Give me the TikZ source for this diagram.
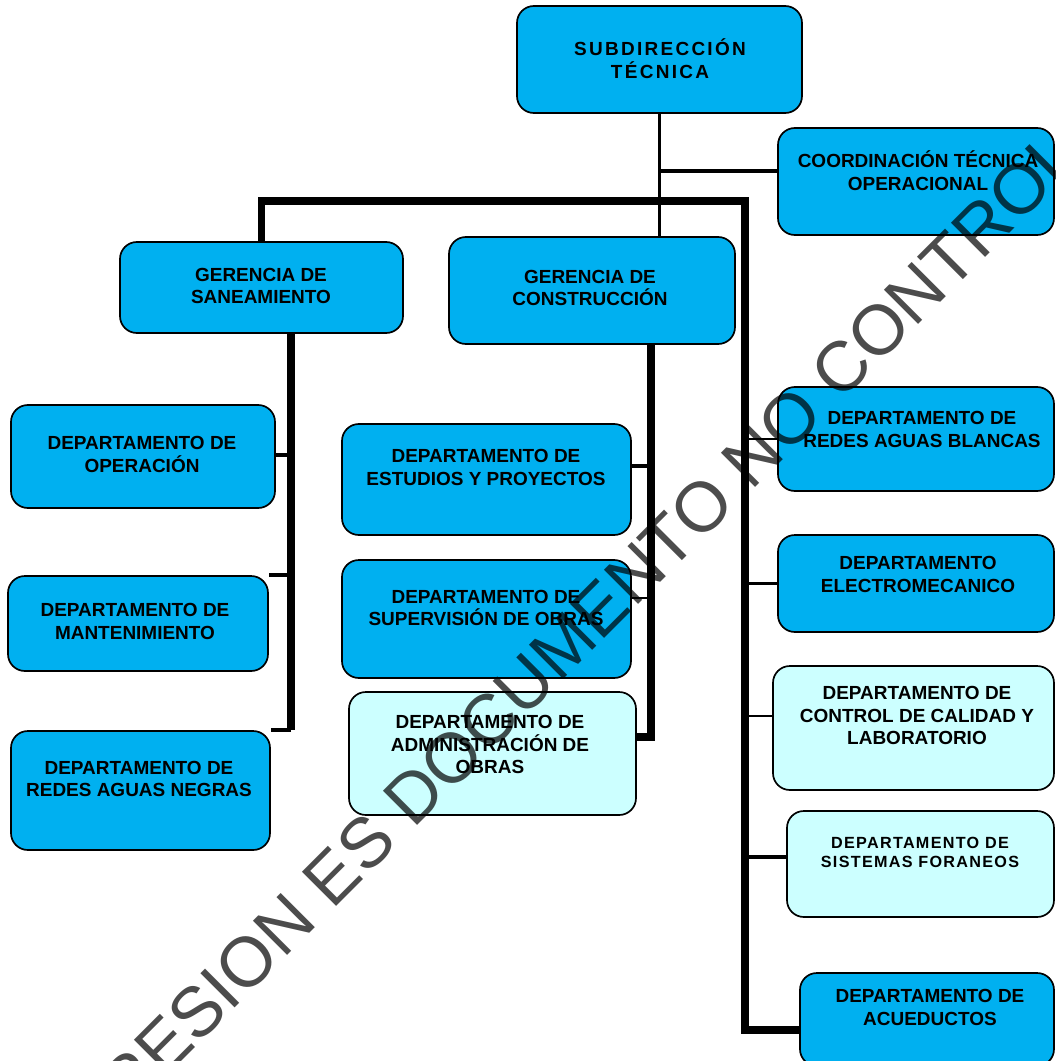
\documentclass[tikz,border=0pt]{standalone}
\usepackage{fontspec}
\setmainfont{Liberation Sans}
\usetikzlibrary{fit}
\definecolor{cajaazul}{HTML}{00B0F0}
\definecolor{cajaclara}{HTML}{CCFFFF}
\begin{document}
\begin{tikzpicture}[x=0.025cm, y=-0.025cm,
  caja/.style = {draw, line width=1.2pt, rounded corners=12pt, inner sep=0pt, fill=cajaazul},
  clara/.style = {caja, fill=cajaclara},
  texto/.style = {align=center, inner sep=0pt, font=\bfseries\fontsize{13.5}{16}\selectfont},
  titulo/.style = {texto, font=\bfseries\fontsize{13.5}{16}\selectfont\addfontfeatures{LetterSpace=12}},
  chico/.style = {texto, font=\bfseries\fontsize{11.5}{13.5}\selectfont\addfontfeatures{LetterSpace=8}},
  linea/.style = {line width=1.6pt},
  media/.style = {line width=2.8pt},
  gruesa/.style = {line width=5pt},
  marca/.style = {black, opacity=0.7, text opacity=0.7, inner sep=0pt, font=\fontsize{50}{60}\selectfont}]
\useasboundingbox (0,0) rectangle (1055,1061);
\clip (0,0) rectangle (1055,1061);

\node[caja, fit={(517,6) (802,113)}] (sub) {};
\node[titulo] (sub-t) at (660,58.5) {SUBDIRECCIÓN\\TÉCNICA};
\node[caja, fit={(778,128) (1054,235)}] (coord) {};
\node[texto] (coord-t) at (918,170.5) {COORDINACIÓN TÉCNICA\\OPERACIONAL};

\node[caja, fit={(120,242) (403,333)}] (gsan) {};
\node[texto] (gsan-t) at (261,286) {GERENCIA DE\\SANEAMIENTO};
\node[caja, fit={(449,237) (735,344)}] (gcon) {};
\node[texto] (gcon-t) at (590,288) {GERENCIA DE\\CONSTRUCCIÓN};

\node[caja, fit={(11,405) (275,508)}] (dop) {};
\node[texto] (dop-t) at (142,454.5) {DEPARTAMENTO DE\\OPERACIÓN};
\node[caja, fit={(8,576) (268,671)}] (dman) {};
\node[texto] (dman-t) at (135,621.5) {DEPARTAMENTO DE\\MANTENIMIENTO};
\node[caja, fit={(11,731) (270,850)}] (drn) {};
\node[texto] (drn-t) at (139,779) {DEPARTAMENTO DE\\REDES AGUAS NEGRAS};

\node[caja, fit={(342,424) (631,535)}] (dest) {};
\node[texto] (dest-t) at (486,467.5) {DEPARTAMENTO DE\\ESTUDIOS Y PROYECTOS};
\node[caja, fit={(342,560) (631,678)}] (dsup) {};
\node[texto] (dsup-t) at (486,608) {DEPARTAMENTO DE\\SUPERVISIÓN  DE OBRAS};
\node[clara, fit={(349,692) (636,815)}] (dadm) {};
\node[texto] (dadm-t) at (490,744.5) {DEPARTAMENTO DE\\ADMINISTRACIÓN DE\\OBRAS};

\node[caja, fit={(778,387) (1054,491)}] (drb) {};
\node[texto] (drb-t) at (922,429.5) {DEPARTAMENTO DE\\REDES AGUAS BLANCAS};
\node[caja, fit={(778,535) (1054,632)}] (delm) {};
\node[texto] (delm-t) at (918,574.5) {DEPARTAMENTO\\ELECTROMECANICO};
\node[clara, fit={(773,666) (1054,790)}] (dcal) {};
\node[texto] (dcal-t) at (917,715.5) {DEPARTAMENTO DE\\CONTROL DE CALIDAD Y\\LABORATORIO};
\node[clara, fit={(787,811) (1054,917)}] (dsis) {};
\node[chico] (dsis-t) at (920,852.5) {DEPARTAMENTO DE\\SISTEMAS FORANEOS};
\node[caja, fit={(800,973) (1054,1066)}] (dacu) {};
\node[texto] (dacu-t) at (930,1007.5) {DEPARTAMENTO DE\\ACUEDUCTOS};

\coordinate (barR) at (745,201);
\coordinate (san) at (291,333);
\coordinate (con) at (651,344);

\draw[media] (sub.south) -- (sub.south |- gcon.north);
\draw[media] (sub.south |- 0,171) -- (coord.west |- 0,171);
\draw[gruesa] (gsan.north) |- (barR) -- (barR |- 0,1030) -- (dacu.west |- 0,1030);

\draw[gruesa] (san) -- (san |- drn.north);
\draw[media] (san |- 0,455) -- (dop.east |- 0,455);
\draw[media] (san |- dman.north) -- (dman.north east);
\draw[media] (san |- drn.north) -- (drn.north east);

\draw[gruesa] (con) |- (dadm.east |- 0,737);
\draw[media] (con |- 0,466) -- (dest.east |- 0,466);
\draw[linea] (con |- 0,598) -- (dsup.east |- 0,598);

\draw[linea] (barR |- drb.west) -- (drb.west);
\draw[linea] (barR |- delm.west) -- (delm.west);
\draw[linea] (barR |- 0,716) -- (dcal.west |- 0,716);
\draw[media] (barR |- 0,857) -- (dsis.west |- 0,857);

\node[marca, rotate=45, anchor=base west] (aviso) at (40,1203) {IMPRESION ES DOCUMENTO NO CONTROLADO};
\end{tikzpicture}
\end{document}
